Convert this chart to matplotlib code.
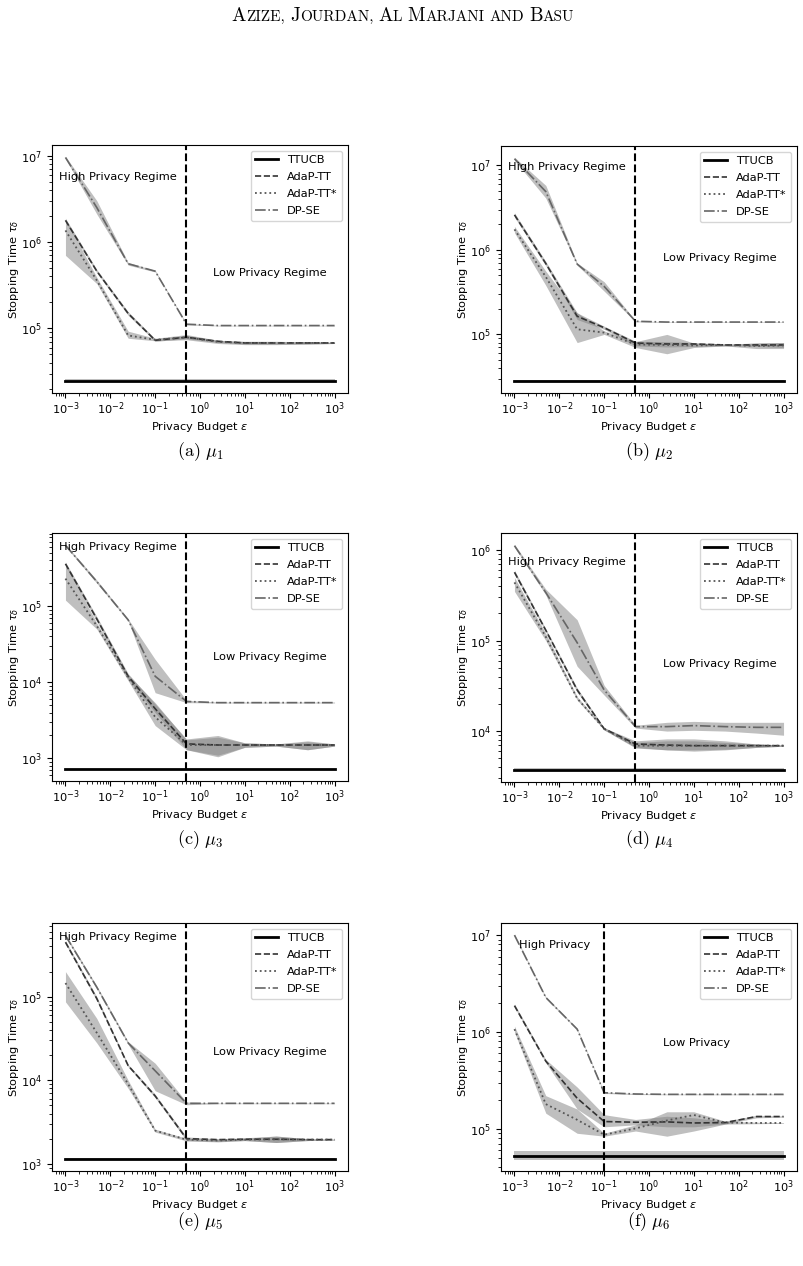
import matplotlib
matplotlib.use("Agg")
import matplotlib.pyplot as plt
from matplotlib.ticker import LogLocator, NullFormatter, FixedLocator

# ---------------- data ----------------
eps = [0.001, 0.005, 0.025, 0.1, 0.5, 2.5, 10, 50, 250, 1000]
eps_ticks = [1e-3, 1e-2, 1e-1, 1e0, 1e1, 1e2, 1e3]
algos = ["TTUCB", "AdaP-TT", "AdaP-TT*", "DP-SE"]
panel_labels = ["a", "b", "c", "d", "e", "f"]
regime_split = [0.5, 0.5, 0.5, 0.5, 0.5, 0.1]

# (a) mu_1
a_ttucb = [2.5e4] * 10
a_ttucb_lo = [2.42e4] * 10
a_ttucb_hi = [2.58e4] * 10
a_adap = [1.78e6, 4.6e5, 1.49e5, 7.3e4, 7.9e4, 7.1e4, 6.8e4, 6.8e4, 6.8e4, 6.8e4]
a_adap_lo = [1.7e6, 4.4e5, 1.42e5, 7.1e4, 7.6e4, 6.9e4, 6.6e4, 6.6e4, 6.6e4, 6.7e4]
a_adap_hi = [1.88e6, 4.8e5, 1.56e5, 7.6e4, 8.3e4, 7.3e4, 7.0e4, 7.0e4, 7.0e4, 6.9e4]
a_adaps = [1.36e6, 3.6e5, 8.3e4, 7.4e4, 7.9e4, 7.0e4, 6.8e4, 6.8e4, 6.8e4, 6.8e4]
a_adaps_lo = [7.0e5, 3.3e5, 7.7e4, 7.2e4, 7.4e4, 6.7e4, 6.5e4, 6.5e4, 6.6e4, 6.7e4]
a_adaps_hi = [1.85e6, 3.9e5, 9.3e4, 7.7e4, 8.5e4, 7.3e4, 7.1e4, 7.1e4, 7.0e4, 6.9e4]
a_dpse = [9.5e6, 2.5e6, 5.6e5, 4.6e5, 1.12e5, 1.08e5, 1.08e5, 1.08e5, 1.08e5, 1.08e5]
a_dpse_lo = [9.2e6, 2.1e6, 5.4e5, 4.5e5, 1.1e5, 1.07e5, 1.07e5, 1.07e5, 1.07e5, 1.07e5]
a_dpse_hi = [9.8e6, 3.0e6, 5.8e5, 4.7e5, 1.14e5, 1.09e5, 1.09e5, 1.09e5, 1.09e5, 1.09e5]

# (b) mu_2
b_ttucb = [2.8e4] * 10
b_ttucb_lo = [2.75e4] * 10
b_ttucb_hi = [2.85e4] * 10
b_adap = [2.6e6, 6.9e5, 1.64e5, 1.2e5, 7.9e4, 7.7e4, 7.7e4, 7.5e4, 7.5e4, 7.5e4]
b_adap_lo = [2.45e6, 6.5e5, 1.5e5, 1.15e5, 7.3e4, 7.1e4, 7.2e4, 7.3e4, 7.2e4, 7.0e4]
b_adap_hi = [2.75e6, 7.3e5, 1.8e5, 1.25e5, 8.3e4, 8.2e4, 8.0e4, 7.7e4, 7.9e4, 8.0e4]
b_adaps = [1.75e6, 4.8e5, 1.15e5, 1.05e5, 7.6e4, 7.5e4, 7.4e4, 7.5e4, 7.3e4, 7.4e4]
b_adaps_lo = [1.6e6, 3.8e5, 8.0e4, 1.0e5, 7.0e4, 5.9e4, 7.0e4, 7.3e4, 6.8e4, 6.8e4]
b_adaps_hi = [1.9e6, 5.6e5, 1.8e5, 1.1e5, 8.2e4, 1.0e5, 7.9e4, 7.6e4, 7.9e4, 8.0e4]
b_dpse = [1.2e7, 4.9e6, 6.8e5, 3.7e5, 1.43e5, 1.4e5, 1.4e5, 1.4e5, 1.4e5, 1.4e5]
b_dpse_lo = [1.15e7, 4.1e6, 6.6e5, 3.25e5, 1.41e5, 1.39e5, 1.39e5, 1.39e5, 1.39e5, 1.39e5]
b_dpse_hi = [1.25e7, 5.8e6, 7.0e5, 4.2e5, 1.45e5, 1.41e5, 1.41e5, 1.41e5, 1.41e5, 1.41e5]

# (c) mu_3
c_ttucb = [7.2e2] * 10
c_ttucb_lo = [7.1e2] * 10
c_ttucb_hi = [7.3e2] * 10
c_adap = [3.6e5, 6.8e4, 1.2e4, 4.5e3, 1.55e3, 1.5e3, 1.5e3, 1.5e3, 1.5e3, 1.5e3]
c_adap_lo = [3.4e5, 6.3e4, 1.1e4, 4.0e3, 1.3e3, 1.05e3, 1.4e3, 1.45e3, 1.3e3, 1.45e3]
c_adap_hi = [3.8e5, 7.3e4, 1.3e4, 5.2e3, 1.8e3, 2.0e3, 1.6e3, 1.55e3, 1.7e3, 1.55e3]
c_adaps = [2.3e5, 5.5e4, 1.15e4, 3.5e3, 1.5e3, 1.5e3, 1.5e3, 1.5e3, 1.5e3, 1.5e3]
c_adaps_lo = [1.2e5, 5.0e4, 1.05e4, 2.7e3, 1.3e3, 1.1e3, 1.4e3, 1.45e3, 1.3e3, 1.45e3]
c_adaps_hi = [3.6e5, 6.0e4, 1.25e4, 5.4e3, 1.75e3, 1.9e3, 1.6e3, 1.55e3, 1.65e3, 1.55e3]
c_dpse = [6.3e5, 2.1e5, 6.6e4, 1.2e4, 5.6e3, 5.4e3, 5.4e3, 5.4e3, 5.4e3, 5.4e3]
c_dpse_lo = [6.1e5, 2.0e5, 6.4e4, 7.3e3, 5.4e3, 5.35e3, 5.35e3, 5.35e3, 5.35e3, 5.35e3]
c_dpse_hi = [6.5e5, 2.2e5, 6.8e4, 2.0e4, 5.8e3, 5.5e3, 5.5e3, 5.5e3, 5.5e3, 5.5e3]

# (d) mu_4
d_ttucb = [3.76e3] * 10
d_ttucb_lo = [3.65e3] * 10
d_ttucb_hi = [3.87e3] * 10
d_adap = [5.7e5, 1.3e5, 2.85e4, 1.06e4, 7.2e3, 7.0e3, 6.9e3, 6.9e3, 6.9e3, 6.9e3]
d_adap_lo = [5.4e5, 1.25e5, 2.7e4, 1.03e4, 6.6e3, 6.2e3, 6.0e3, 6.2e3, 6.6e3, 6.8e3]
d_adap_hi = [6.0e5, 1.35e5, 3.0e4, 1.09e4, 7.8e3, 8.2e3, 8.2e3, 7.8e3, 7.2e3, 7.0e3]
d_adaps = [4.4e5, 1.1e5, 2.3e4, 1.06e4, 6.9e3, 6.9e3, 6.9e3, 6.9e3, 6.9e3, 6.9e3]
d_adaps_lo = [3.5e5, 1.0e5, 2.2e4, 1.03e4, 6.5e3, 6.2e3, 6.2e3, 6.3e3, 6.6e3, 6.8e3]
d_adaps_hi = [5.0e5, 1.2e5, 2.4e4, 1.09e4, 7.5e3, 7.8e3, 7.8e3, 7.5e3, 7.2e3, 7.0e3]
d_dpse = [1.12e6, 3.4e5, 9.5e4, 2.85e4, 1.12e4, 1.12e4, 1.15e4, 1.12e4, 1.1e4, 1.1e4]
d_dpse_lo = [1.08e6, 3.2e5, 5.2e4, 2.5e4, 1.08e4, 1.0e4, 1.02e4, 1.0e4, 9.5e3, 9.0e3]
d_dpse_hi = [1.16e6, 3.7e5, 1.7e5, 3.2e4, 1.16e4, 1.25e4, 1.28e4, 1.25e4, 1.25e4, 1.25e4]

# (e) mu_5
e_ttucb = [1.15e3] * 10
e_ttucb_lo = [1.12e3] * 10
e_ttucb_hi = [1.18e3] * 10
e_adap = [4.5e5, 9.5e4, 1.5e4, 6.5e3, 2.0e3, 1.95e3, 1.97e3, 1.97e3, 1.95e3, 1.95e3]
e_adap_lo = [4.3e5, 9.0e4, 1.45e4, 6.2e3, 1.9e3, 1.85e3, 1.9e3, 1.8e3, 1.9e3, 1.93e3]
e_adap_hi = [4.7e5, 1.0e5, 1.55e4, 6.8e3, 2.1e3, 2.0e3, 2.05e3, 2.15e3, 2.0e3, 1.97e3]
e_adaps = [1.46e5, 3.7e4, 9.0e3, 2.5e3, 1.95e3, 1.9e3, 1.95e3, 1.97e3, 1.95e3, 1.95e3]
e_adaps_lo = [8.7e4, 2.8e4, 8.0e3, 2.4e3, 1.88e3, 1.83e3, 1.9e3, 1.8e3, 1.9e3, 1.93e3]
e_adaps_hi = [2.0e5, 5.5e4, 1.0e4, 2.6e3, 2.02e3, 1.97e3, 2.02e3, 2.15e3, 2.0e3, 1.97e3]
e_dpse = [5.4e5, 1.3e5, 2.8e4, 1.3e4, 5.3e3, 5.3e3, 5.3e3, 5.3e3, 5.3e3, 5.3e3]
e_dpse_lo = [5.2e5, 1.25e5, 2.7e4, 7.5e3, 5.1e3, 5.25e3, 5.25e3, 5.25e3, 5.25e3, 5.25e3]
e_dpse_hi = [5.6e5, 1.35e5, 2.9e4, 1.6e4, 5.5e3, 5.35e3, 5.35e3, 5.35e3, 5.35e3, 5.35e3]

# (f) mu_6
f_ttucb = [5.3e4] * 10
f_ttucb_lo = [4.8e4] * 10
f_ttucb_hi = [5.9e4] * 10
f_adap = [1.87e6, 5.0e5, 2.07e5, 1.19e5, 1.17e5, 1.18e5, 1.15e5, 1.16e5, 1.34e5, 1.34e5]
f_adap_lo = [1.8e6, 4.8e5, 1.6e5, 1.05e5, 1.1e5, 1.05e5, 1.05e5, 1.12e5, 1.3e5, 1.32e5]
f_adap_hi = [1.95e6, 5.2e5, 2.7e5, 1.4e5, 1.25e5, 1.35e5, 1.3e5, 1.2e5, 1.38e5, 1.36e5]
f_adaps = [1.07e6, 1.8e5, 1.24e5, 8.7e4, 1.01e5, 1.22e5, 1.39e5, 1.16e5, 1.15e5, 1.15e5]
f_adaps_lo = [1.0e6, 1.45e5, 9.0e4, 8.4e4, 9.5e4, 8.4e4, 9.5e4, 1.12e5, 1.13e5, 1.14e5]
f_adaps_hi = [1.15e6, 2.2e5, 1.6e5, 9.0e4, 1.1e5, 1.5e5, 1.5e5, 1.2e5, 1.17e5, 1.16e5]
f_dpse = [1.0e7, 2.27e6, 1.07e6, 2.36e5, 2.29e5, 2.27e5, 2.27e5, 2.27e5, 2.27e5, 2.27e5]
f_dpse_lo = [9.8e6, 2.22e6, 1.05e6, 2.32e5, 2.26e5, 2.25e5, 2.25e5, 2.25e5, 2.25e5, 2.25e5]
f_dpse_hi = [1.02e7, 2.32e6, 1.09e6, 2.4e5, 2.32e5, 2.29e5, 2.29e5, 2.29e5, 2.29e5, 2.29e5]

panels = [
    [(a_ttucb, a_ttucb_lo, a_ttucb_hi), (a_adap, a_adap_lo, a_adap_hi),
     (a_adaps, a_adaps_lo, a_adaps_hi), (a_dpse, a_dpse_lo, a_dpse_hi)],
    [(b_ttucb, b_ttucb_lo, b_ttucb_hi), (b_adap, b_adap_lo, b_adap_hi),
     (b_adaps, b_adaps_lo, b_adaps_hi), (b_dpse, b_dpse_lo, b_dpse_hi)],
    [(c_ttucb, c_ttucb_lo, c_ttucb_hi), (c_adap, c_adap_lo, c_adap_hi),
     (c_adaps, c_adaps_lo, c_adaps_hi), (c_dpse, c_dpse_lo, c_dpse_hi)],
    [(d_ttucb, d_ttucb_lo, d_ttucb_hi), (d_adap, d_adap_lo, d_adap_hi),
     (d_adaps, d_adaps_lo, d_adaps_hi), (d_dpse, d_dpse_lo, d_dpse_hi)],
    [(e_ttucb, e_ttucb_lo, e_ttucb_hi), (e_adap, e_adap_lo, e_adap_hi),
     (e_adaps, e_adaps_lo, e_adaps_hi), (e_dpse, e_dpse_lo, e_dpse_hi)],
    [(f_ttucb, f_ttucb_lo, f_ttucb_hi), (f_adap, f_adap_lo, f_adap_hi),
     (f_adaps, f_adaps_lo, f_adaps_hi), (f_dpse, f_dpse_lo, f_dpse_hi)],
]

high_text = ["High Privacy Regime"] * 5 + ["High Privacy"]
low_text = ["Low Privacy Regime"] * 5 + ["Low Privacy"]

# ---------------- layout / style ----------------
W, H = 804, 1266
fig = plt.figure(figsize=(W / 100, H / 100), dpi=100)

# axes boxes in pixels: (left, top, right, bottom)
boxes = [(52, 145, 348, 393), (501, 146, 797, 393),
         (52, 533, 348, 781), (501, 533, 797, 782),
         (52, 923, 348, 1171), (501, 923, 797, 1171)]
high_pos = [(0.024, 0.872), (0.024, 0.915), (0.024, 0.943),
            (0.024, 0.884), (0.024, 0.944), (0.06, 0.911)]
low_pos = [(0.544, 0.484), (0.547, 0.547), (0.544, 0.502),
           (0.547, 0.472), (0.544, 0.48), (0.547, 0.517)]
caption_y = [452, 452, 840, 840, 1222, 1222]

styles = [dict(color="black", ls="-", lw=2.0),
          dict(color="#333333", ls="--", lw=1.2),
          dict(color="#555555", ls=":", lw=1.3),
          dict(color="#666666", ls="-.", lw=1.2)]
FS = 8.2

for i, (series, box) in enumerate(zip(panels, boxes)):
    l, t, r, b = box
    ax = fig.add_axes([l / W, 1 - b / H, (r - l) / W, (b - t) / H])
    for name, (m, lo, hi), st in zip(algos, series, styles):
        ax.fill_between(eps, lo, hi, color="gray", alpha=0.5, lw=0)
        ax.plot(eps, m, label=name, **st)
    ax.axvline(regime_split[i], color="black", ls="--", lw=1.5)
    ax.set_xscale("log")
    ax.set_yscale("log")
    ax.xaxis.set_major_locator(FixedLocator(eps_ticks))
    ax.xaxis.set_minor_locator(LogLocator(base=10, subs=range(2, 10), numticks=100))
    ax.xaxis.set_minor_formatter(NullFormatter())
    ax.yaxis.set_major_locator(LogLocator(base=10, numticks=20))
    ax.yaxis.set_minor_locator(LogLocator(base=10, subs=range(2, 10), numticks=100))
    ax.yaxis.set_minor_formatter(NullFormatter())
    ax.tick_params(labelsize=FS)
    ax.tick_params(axis="x", which="major", pad=1.8)
    ax.set_xlabel(r"Privacy Budget $\varepsilon$", fontsize=FS, labelpad=2)
    ax.set_ylabel(r"Stopping Time $\tau_\delta$", fontsize=FS, labelpad=0)
    ax.legend(loc="upper right", fontsize=FS, labelspacing=0.62)
    ax.text(*high_pos[i], high_text[i], transform=ax.transAxes, fontsize=FS,
            ha="left", va="center")
    ax.text(*low_pos[i], low_text[i], transform=ax.transAxes, fontsize=FS,
            ha="left", va="center")
    fig.text(((l + r) / 2) / W, 1 - caption_y[i] / H,
             r"$\mathrm{(%s)}\ \mu_{%d}$" % (panel_labels[i], i + 1),
             fontsize=13, ha="center", va="center", math_fontfamily="cm")

# header in small caps (Computer Modern roman shipped with matplotlib)
renderer = fig.canvas.get_renderer()
header = "Azize, Jourdan, Al Marjani and Basu"
words = header.split(" ")
x = 0.0
arts = []
for wi, word in enumerate(words):
    runs = []
    cur, cur_big = "", None
    for ch in word:
        if ch.isalpha():
            big = ch.isupper()
        else:
            big = cur_big if cur_big is not None else True
        if cur and big != cur_big:
            runs.append((cur, cur_big))
            cur = ""
        cur += ch.upper()
        cur_big = big
    if cur:
        runs.append((cur, cur_big))
    for txt, big in runs:
        a = fig.text(x / W, 1 - 21 / H, txt, family="cmr10",
                     fontsize=13.8 if big else 11.0, ha="left", va="baseline")
        bb = a.get_window_extent(renderer)
        arts.append((a, x))
        x += bb.width
    if wi < len(words) - 1:
        x += 5.2
shift = 403 - x / 2
for a, x0 in arts:
    a.set_x((x0 + shift) / W)

fig.savefig("out.png", dpi=100)
